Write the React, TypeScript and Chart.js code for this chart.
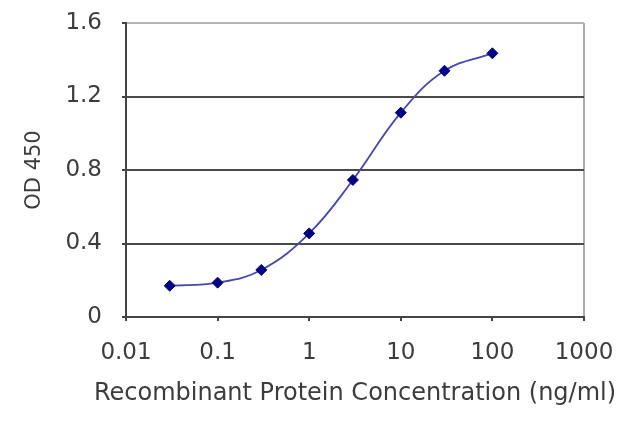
import React, { useRef, useEffect } from 'react';
import { Chart, registerables } from 'chart.js';

Chart.register(...registerables);

// concentration (ng/ml) and OD 450 readings
const concentrations = [0.03, 0.1, 0.3, 1, 3, 10, 30, 100];
const odValues = [0.17, 0.187, 0.256, 0.455, 0.746, 1.112, 1.34, 1.435];

const xTicks = [0.01, 0.1, 1, 10, 100, 1000];
const yTicks = [0, 0.4, 0.8, 1.2, 1.6];

const xTitle = 'Recombinant Protein Concentration (ng/ml)';
const yTitle = 'OD 450';

const textColor = '#3c3c3c';

// the axis title is wider than the plot, and Chart.js would squeeze it,
// so draw it ourselves under the x axis
const xTitlePlugin = {
  id: 'xTitle',
  afterDraw(chart: Chart) {
    const { ctx, chartArea, scales } = chart;
    ctx.save();
    ctx.font = '24px "DejaVu Sans"';
    ctx.fillStyle = textColor;
    ctx.textAlign = 'center';
    ctx.textBaseline = 'middle';
    ctx.fillText(xTitle, (chartArea.left + chartArea.right) / 2, scales.x.bottom - 33);
    ctx.restore();
  },
};

const App = () => {
  const canvasRef = useRef<HTMLCanvasElement>(null);

  useEffect(() => {
    const ctx = canvasRef.current?.getContext('2d');
    if (!ctx) return;

    const chart = new Chart(ctx, {
      type: 'line',
      data: {
        datasets: [
          {
            data: concentrations.map((c, i) => ({ x: c, y: odValues[i] })),
            borderColor: '#4848a8',
            borderWidth: 1.8,
            tension: 0.4,
            pointStyle: 'rectRot',
            pointRadius: 5.5,
            pointBackgroundColor: '#000080',
            pointBorderColor: '#000080',
            pointBorderWidth: 1,
          },
        ],
      },
      options: {
        animation: false,
        responsive: true,
        maintainAspectRatio: false,
        layout: { padding: { top: 23, right: 56, left: 0, bottom: 0 } },
        plugins: {
          legend: { display: false },
          tooltip: { enabled: false },
        },
        scales: {
          x: {
            type: 'logarithmic',
            min: 0.01,
            max: 1000,
            afterBuildTicks: (scale) => {
              scale.ticks = xTicks.map((v) => ({ value: v }));
            },
            afterFit: (scale: any) => {
              scale.height = 110;
              scale.paddingLeft = 0;
              scale.paddingRight = 0;
            },
            ticks: {
              autoSkip: false,
              maxRotation: 0,
              padding: 18,
              color: textColor,
              font: { family: 'DejaVu Sans', size: 23 },
              callback: (v) => String(v),
            },
            grid: {
              drawOnChartArea: true,
              color: (c) => (c.tick && c.tick.value === 1000 ? '#aaaaaa' : 'rgba(0,0,0,0)'),
              lineWidth: 2,
              tickLength: 4,
              tickColor: '#444444',
            },
            border: { color: '#444444', width: 2 },
          },
          y: {
            min: 0,
            max: 1.6,
            afterBuildTicks: (scale) => {
              scale.ticks = yTicks.map((v) => ({ value: v }));
            },
            afterFit: (scale: any) => {
              scale.width = 126;
              scale.paddingTop = 0;
              scale.paddingBottom = 0;
            },
            ticks: {
              padding: 20,
              color: textColor,
              font: { family: 'DejaVu Sans', size: 23 },
              callback: (v) => (Number(v) === 0 ? '0' : Number(v).toFixed(1)),
            },
            grid: {
              color: (c) => (c.tick && c.tick.value === 1.6 ? '#b4b4b4' : '#4a4a4a'),
              lineWidth: 2,
              tickLength: 4,
              tickColor: '#444444',
            },
            border: { color: '#444444', width: 2 },
            title: {
              display: true,
              text: yTitle,
              color: textColor,
              font: { family: 'DejaVu Sans', size: 21 },
              padding: { top: 22, bottom: 0 },
            },
          },
        },
      },
      plugins: [xTitlePlugin],
    });

    return () => chart.destroy();
  }, []);

  return (
    <div style={{ position: 'absolute', left: 0, top: 0, width: 640, height: 427, background: '#fff' }}>
      <canvas ref={canvasRef} />
    </div>
  );
};

export default App;
